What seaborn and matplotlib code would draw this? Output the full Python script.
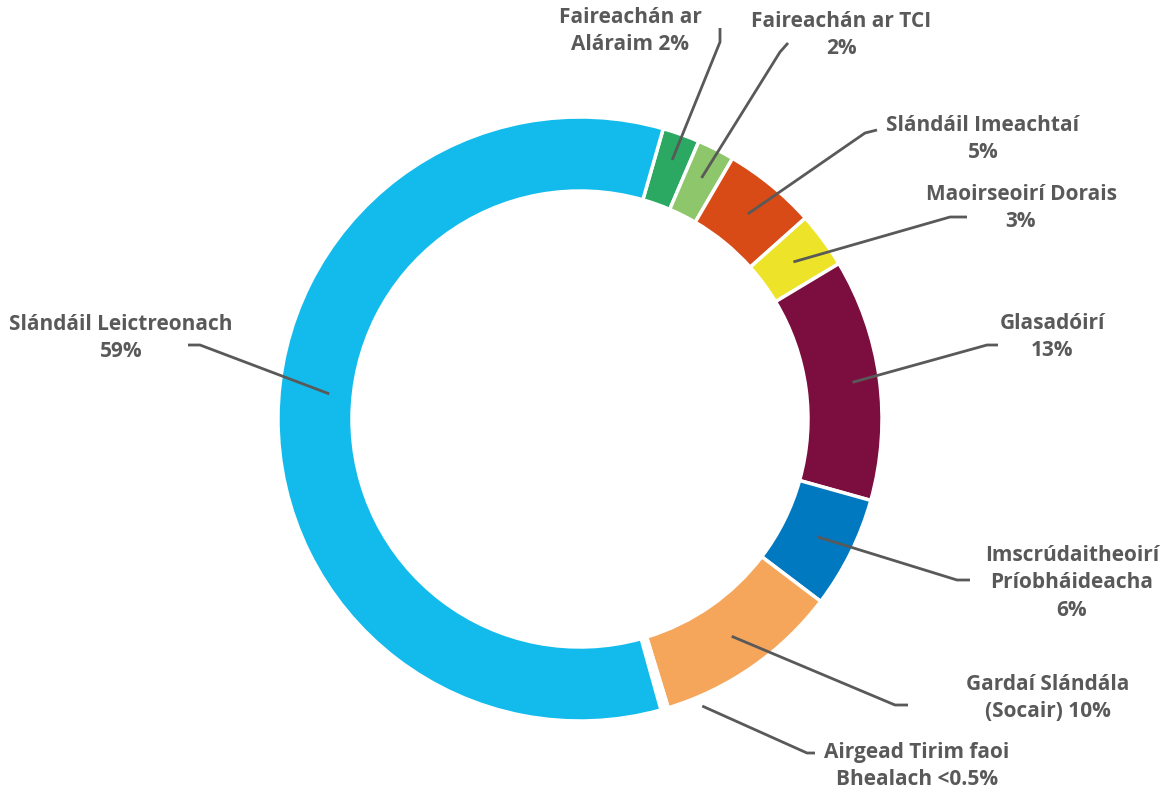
import matplotlib
matplotlib.use('Agg')
import numpy as np
import matplotlib.pyplot as plt
import seaborn as sns

# data (clockwise from just right of 12 o'clock)
catagoirí = ['Faireachán ar\nAláraim 2%', 'Faireachán ar TCI\n2%', 'Slándáil Imeachtaí\n5%',
             'Maoirseoirí Dorais\n3%', 'Glasadóirí\n13%', 'Imscrúdaitheoirí\nPríobháideacha\n6%',
             'Gardaí Slándála\n(Socair) 10%', 'Airgead Tirim faoi\nBhealach <0.5%',
             'Slándáil Leictreonach\n59%']
luachanna = [2, 2, 5, 3, 13, 6, 10, 0.4, 59]
dathanna = ['#2BA862', '#8DC66B', '#D84B16', '#EDE42A', '#7B0E3F', '#0179C0',
            '#F5A65B', '#FFFFFF', '#13BBEC']

# layout for labels (pixel coords, y from top)
lipéad_xy = [(630, 31), (841, 35), (983, 139), (1021, 208), (1052, 337),
             (1072, 583), (1048, 698), (917, 766), (121, 338)]
uillinn_xy = [[(720, 42), (720, 28)], [(780, 52), (788, 43)], [(865, 133), (877, 130)],
              [(950, 217), (967, 217)], [(987, 345), (998, 345)], [(957, 580), (970, 580)],
              [(895, 705), (908, 705)], [(807, 753), (815, 753)], [(200, 345), (188, 345)]]
ga_ancaire = [275, 270, 265, 265, 275, 265, 265, 312, 252]
fritháireamh = [0, 0, 0, 0, 0, 0, 0, 6.8, -5.5]   # degrees, nudge anchor along the ring

W, H = 1167, 796
sns.set_theme(style="white")
plt.rcParams['font.family'] = ['Open Sans', 'DejaVu Sans']
liath = '#595959'

fig = plt.figure(figsize=(W / 100, H / 100), dpi=100)
ax = fig.add_axes([0, 0, 1, 1])

lar = (580, H - 419)
R = 302
wedges, _ = ax.pie(luachanna, colors=dathanna, startangle=74, counterclock=False,
                   radius=R, center=lar,
                   wedgeprops=dict(width=74, edgecolor='white', linewidth=2.5))

ax.set_xlim(0, W)
ax.set_ylim(0, H)
ax.set_aspect('equal', adjustable='box')
ax.axis('off')

for w, lbl, (tx, ty), elbow, r, d in zip(wedges, catagoirí, lipéad_xy, uillinn_xy,
                                         ga_ancaire, fritháireamh):
    ang = np.deg2rad((w.theta1 + w.theta2) / 2 + d)
    ax0 = lar[0] + r * np.cos(ang)
    ay0 = lar[1] + r * np.sin(ang)
    xs = [ax0] + [p[0] for p in elbow]
    ys = [ay0] + [H - p[1] for p in elbow]
    ax.plot(xs, ys, color=liath, lw=2.0, solid_capstyle='butt', zorder=5)
    ax.text(tx, H - ty, lbl, ha='center', va='center', fontsize=15,
            fontweight='bold', color=liath, linespacing=1.42)

fig.savefig('out.png', dpi=100, facecolor='white')
